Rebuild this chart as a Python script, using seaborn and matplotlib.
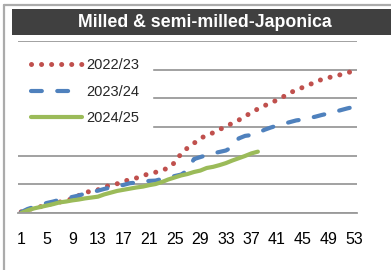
import numpy as np
import pandas as pd
import matplotlib
matplotlib.use("Agg")
import matplotlib.pyplot as plt
import seaborn as sns
from matplotlib.patches import Rectangle
from matplotlib.lines import Line2D
from matplotlib.ticker import FixedLocator

title = "Milled & semi-milled-Japonica"
series_names = ["2022/23", "2023/24", "2024/25"]
weeks = list(range(1, 54))
tick_labels = [str(w) for w in range(1, 54, 4)]

v_2022_23 = [4, 11, 17, 22, 28, 34, 38, 43, 50, 61, 72, 76, 81, 91, 97, 102, 110, 117,
             122, 130, 137, 142, 149, 157, 176, 207, 227, 243, 261, 270, 280, 291, 302,
             313, 324, 337, 351, 363, 374, 384, 394, 406, 419, 429, 438, 447, 457, 466,
             472, 477, 483, 489, 496]
v_2023_24 = [3, 14, 21, 28, 35, 40, 46, 51, 56, 61, 68, 73, 78, 84, 89, 93, 98, 104,
             106, 108, 112, 113, 119, 124, 129, 134, 148, 188, 195, 202, 208, 213, 218,
             230, 260, 269, 272, 279, 290, 298, 305, 311, 317, 323, 326, 331, 336, 342,
             347, 353, 359, 365, 370]
v_2024_25 = [0, 9, 16, 21, 26, 31, 37, 40, 44, 47, 51, 54, 57, 65, 71, 77, 81, 85, 89,
             92, 97, 101, 108, 117, 124, 131, 136, 143, 148, 157, 161, 167, 174, 183, 191,
             199, 208, 214]

colors = ["#C0504D", "#4F81BD", "#9BBB59"]

sns.set_style("white")
plt.rcParams["font.family"] = ["Liberation Sans", "DejaVu Sans"]

W, H = 391, 270
fig = plt.figure(figsize=(W / 100, H / 100), dpi=100)

# outer frame (top and left lines)
fig.add_artist(Line2D([4 / W, 1], [1 - 5 / H, 1 - 5 / H], transform=fig.transFigure,
                      color="#ababab", lw=1.6))
fig.add_artist(Line2D([4 / W, 4 / W], [0, 1 - 5 / H], transform=fig.transFigure,
                      color="#ababab", lw=1.6))
# title bar
fig.add_artist(Rectangle((12 / W, 1 - 35 / H), (W - 12) / W, 26 / H,
                         transform=fig.transFigure, color="#404040", lw=0))
fig.text(205 / W, 1 - 22.5 / H, title, color="white", fontsize=12.8,
         fontweight="bold", ha="center", va="center")

ax = fig.add_axes([18 / W, 1 - 213 / H, 339 / W, 172 / H])

data = {
    series_names[0]: v_2022_23,
    series_names[1]: v_2023_24,
    series_names[2]: v_2024_25,
}
styles = [
    dict(linestyle=(0, (0.01, 2.0)), dash_capstyle="round", lw=3.6),
    dict(linestyle=(0, (2.6, 3.7)), dash_capstyle="round", lw=3.0),
    dict(linestyle="-", solid_capstyle="round", lw=3.0),
]
for name, col, st in zip(series_names, colors, styles):
    vals = data[name]
    df = pd.DataFrame({"week": weeks[:len(vals)], "value": vals})
    sns.lineplot(data=df, x="week", y="value", ax=ax, color=col,
                 label=name, **st)

ax.set_xlim(0.5, 53.5)
ax.set_ylim(0, 600)
ax.set_yticks(range(0, 601, 100))
ax.set_yticklabels([])
ax.tick_params(axis="y", length=0)
ax.grid(axis="y", color="#9a9a9a", lw=1.3)
ax.grid(axis="x", visible=False)
ax.set_axisbelow(True)
for s in ["top", "right", "left"]:
    ax.spines[s].set_visible(False)
ax.spines["bottom"].set_color("#9a9a9a")
ax.spines["bottom"].set_linewidth(1.3)

ax.set_xticks(list(range(1, 54, 4)))
ax.set_xticklabels(tick_labels)
ax.xaxis.set_minor_locator(FixedLocator(np.arange(0.5, 54, 1.0)))
ax.tick_params(axis="x", which="major", length=0, pad=14, labelsize=11.5, labelcolor="black")
ax.tick_params(axis="x", which="minor", length=5, width=0.9, color="#9a9a9a", direction="out")
ax.set_xlabel("")
ax.set_ylabel("")

leg = ax.legend(loc="upper left", bbox_to_anchor=(0, 0.975), borderaxespad=0,
                frameon=True, fontsize=10.5, handlelength=3.5, handletextpad=0.25,
                labelspacing=0.85, borderpad=0.9, fancybox=False)
leg.get_frame().set_facecolor("white")
leg.get_frame().set_edgecolor("white")
leg.get_frame().set_alpha(1.0)

fig.savefig("out.png", dpi=100)
